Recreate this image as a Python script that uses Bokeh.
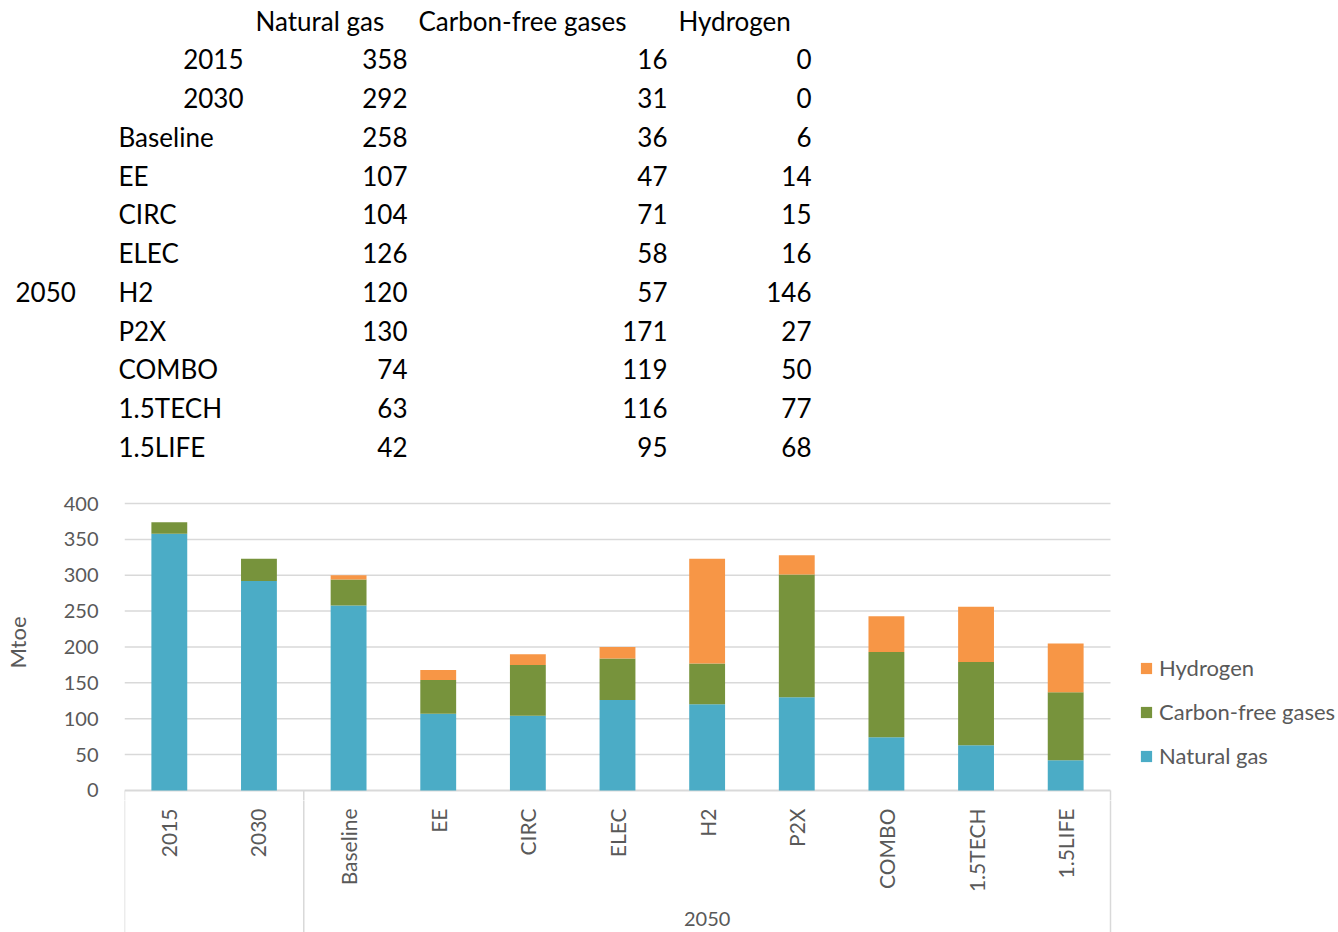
import math
from bokeh.plotting import figure
from bokeh.layouts import column
from bokeh.models import (ColumnDataSource, Range1d, FixedTicker, Legend, LegendItem)
from bokeh.core.properties import value
from bokeh.embed import file_html
from bokeh.resources import INLINE

# ---- data (Mtoe) ----
categories = ["2015", "2030", "Baseline", "EE", "CIRC", "ELEC", "H2", "P2X",
              "COMBO", "1.5TECH", "1.5LIFE"]
groups = ["", "", "2050", "2050", "2050", "2050", "2050", "2050", "2050",
          "2050", "2050"]
natural_gas = [358, 292, 258, 107, 104, 126, 120, 130, 74, 63, 42]
carbon_free = [16, 31, 36, 47, 71, 58, 57, 171, 119, 116, 95]
hydrogen = [0, 0, 6, 14, 15, 16, 146, 27, 50, 77, 68]
series_names = ["Natural gas", "Carbon-free gases", "Hydrogen"]
y_ticks = [0, 50, 100, 150, 200, 250, 300, 350, 400]

FONT = "Lato"
GREY = "#595959"
LINE_GREY = "#D9D9D9"
COLORS = ["#4BACC6", "#77933C", "#F79646"]

W = 1338
TABLE_H = 480
CHART_H = 320
AXIS_H = 132
LEFT = 124          # width of the value-axis margin
PLOT_W = 986        # width taken by the category slots
N = len(categories)
X_END = N * (W - LEFT) / PLOT_W   # leaves room on the right for the legend

# ---------------- data table above the chart ----------------
t = figure(width=W, height=TABLE_H, x_range=Range1d(0, W), y_range=Range1d(TABLE_H, 0),
           toolbar_location=None, output_backend="svg", min_border=0)
t.axis.visible = False
t.grid.visible = False
t.outline_line_color = None

TFS = "26px"
row_y0, row_step = 20, 38.75
header_left = [255, 418, 678]
num_right = [407, 667, 811]
row_ys = [row_y0 + row_step * (i + 1) for i in range(N)]

t.text(x=header_left, y=[row_y0] * 3, text=series_names,
       text_font=value(FONT), text_font_size=TFS, text_color="black",
       text_align="left", text_baseline="middle")

# row labels: years right aligned, scenario names left aligned
lab_x, lab_align = [], []
for c in categories:
    if c.isdigit():
        lab_x.append(243)
        lab_align.append("right")
    else:
        lab_x.append(118)
        lab_align.append("left")
t.text(x=lab_x, y=row_ys, text=categories, text_align=lab_align,
       text_font=value(FONT), text_font_size=TFS, text_color="black",
       text_baseline="middle")

# merged group cell
grp_rows = [y for y, g in zip(row_ys, groups) if g == "2050"]
t.text(x=[15], y=[sum(grp_rows) / len(grp_rows)], text=["2050"],
       text_font=value(FONT), text_font_size=TFS, text_color="black",
       text_align="left", text_baseline="middle")

for col, vals in enumerate([natural_gas, carbon_free, hydrogen]):
    t.text(x=[num_right[col]] * len(vals), y=row_ys, text=[str(v) for v in vals],
           text_font=value(FONT), text_font_size=TFS, text_color="black",
           text_align="right", text_baseline="middle")

# ---------------- stacked bar chart ----------------
slot_x = [i + 0.5 for i in range(N)]          # centre of each category slot
src = ColumnDataSource(dict(x=slot_x, cat=categories, ng=natural_gas,
                            cf=carbon_free, h2=hydrogen))
xr = Range1d(0, X_END)
Y0, Y1 = -14, 426.5

p = figure(width=W, height=CHART_H, x_range=xr, y_range=Range1d(Y0, Y1),
           toolbar_location=None, output_backend="svg", x_axis_location=None,
           min_border_left=LEFT, min_border_right=0, min_border_top=4,
           min_border_bottom=0)
p.outline_line_color = None
p.grid.visible = False

# horizontal gridlines across the category slots only
p.segment(x0=[0] * len(y_ticks), x1=[N] * len(y_ticks), y0=y_ticks, y1=y_ticks,
          line_color=LINE_GREY, line_width=[2 if v == 0 else 1.5 for v in y_ticks])

ya = p.yaxis[0]
ya.ticker = FixedTicker(ticks=y_ticks)
ya.axis_line_color = None
ya.major_tick_line_color = None
ya.minor_tick_line_color = None
ya.major_label_standoff = 20
ya.major_label_text_font = FONT
ya.major_label_text_font_size = "20px"
ya.major_label_text_color = GREY
ya.axis_label = "Mtoe"
ya.axis_label_text_font = FONT
ya.axis_label_text_font_size = "22px"
ya.axis_label_text_font_style = "normal"
ya.axis_label_text_color = GREY
ya.axis_label_standoff = 30

renderers = p.vbar_stack(["ng", "cf", "h2"], x="x", width=0.4, source=src,
                         color=COLORS, line_color=None)

# group boundaries (start of the category axis)
bounds = [0]
for i in range(1, N):
    if groups[i] != groups[i - 1]:
        bounds.append(i)
bounds.append(N)
p.segment(x0=bounds, x1=bounds, y0=[0] * len(bounds), y1=[Y0] * len(bounds),
          line_color=LINE_GREY, line_width=1.5)

legend = Legend(items=[LegendItem(label=n, renderers=[r])
                       for n, r in reversed(list(zip(series_names, renderers)))],
                location=(1015, 31), padding=0, margin=0, spacing=17,
                glyph_width=14, glyph_height=14, label_standoff=6,
                label_height=20, label_text_font=FONT, label_text_font_size="22px",
                label_text_color=GREY, border_line_color=None,
                background_fill_alpha=0)
p.add_layout(legend, "center")

# ---------------- category axis with group separators ----------------
# vertical coordinate: pixels below the zero line
a = figure(width=W, height=AXIS_H, x_range=xr, y_range=Range1d(142, 10),
           toolbar_location=None, output_backend="svg", min_border_left=LEFT,
           min_border_right=0, min_border_top=0, min_border_bottom=0)
a.axis.visible = False
a.grid.visible = False
a.outline_line_color = None

a.text(x=slot_x, y=[18] * N, text=categories, angle=math.pi / 2,
       text_align="right", text_baseline="middle", text_font=value(FONT),
       text_font_size="21px", text_color=GREY)

a.segment(x0=bounds, x1=bounds, y0=[0] * len(bounds), y1=[142] * len(bounds),
          line_color=LINE_GREY, line_width=1.5)

grp_names, grp_centers = [], []
for s, e in zip(bounds[:-1], bounds[1:]):
    if groups[s]:
        grp_names.append(groups[s])
        grp_centers.append((s + e) / 2)
a.text(x=grp_centers, y=[128] * len(grp_centers), text=grp_names,
       text_align="center", text_baseline="middle", text_font=value(FONT),
       text_font_size="20px", text_color=GREY)

chart = column(p, a, spacing=0)
open("out.html", "w").write(file_html([t, chart], INLINE))
